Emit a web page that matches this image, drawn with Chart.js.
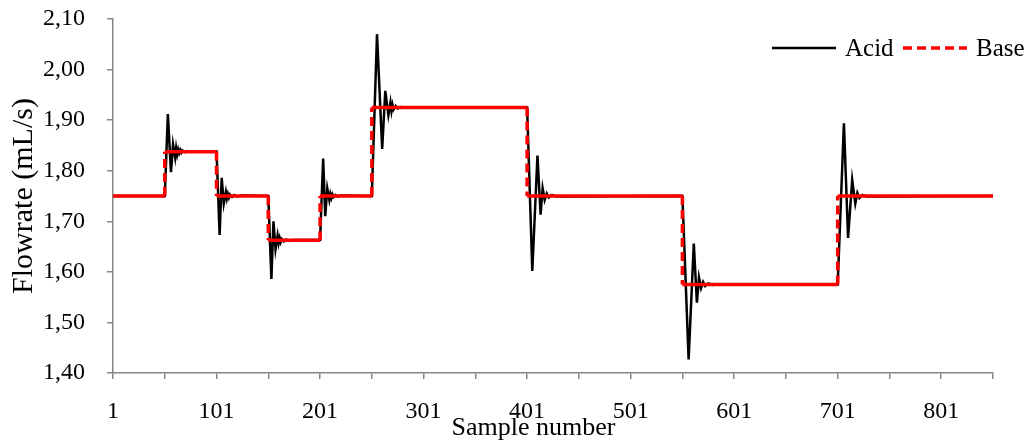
<!DOCTYPE html>
<html>
<head>
<meta charset="utf-8">
<script src="https://cdn.jsdelivr.net/npm/chart.js@4"></script>
<style>
    body { margin: 0; background: #fff; }
    #wrap { width: 1034px; height: 441px; }
</style>
</head>
<body>
<div id="wrap"><canvas id="flowChart" width="1034" height="441"></canvas></div>
<script>
// Acid flowrate (sample, value)
const acidX = [1, 51,
    54, 57, 59, 61, 62, 63, 64, 65, 66, 67, 68, 70, 72, 75, 80, 101,
    104, 106, 108, 110, 111, 112, 113, 114, 116, 118, 121, 125, 151,
    154, 156, 158, 160, 161, 162, 163, 164, 166, 168, 171, 175, 201,
    204, 206, 208, 210, 211, 212, 213, 214, 216, 218, 221, 251,
    256, 261, 264, 267, 269, 270, 271, 272, 274, 276, 279, 283, 401,
    406, 411, 414, 416, 418, 420, 422, 425, 429, 551,
    557, 562, 565, 567, 569, 571, 573, 576, 580, 585, 701,
    707, 711, 715, 718, 720, 722, 725, 729, 851];
const acidY = [1.75, 1.75,
    1.912, 1.797, 1.852, 1.826, 1.845, 1.832, 1.842, 1.835, 1.841, 1.836, 1.840, 1.837, 1.839, 1.838, 1.838, 1.838,
    1.673, 1.786, 1.735, 1.758, 1.745, 1.754, 1.747, 1.753, 1.748, 1.752, 1.749, 1.751, 1.75,
    1.586, 1.700, 1.645, 1.672, 1.657, 1.667, 1.659, 1.665, 1.660, 1.664, 1.661, 1.663, 1.663,
    1.824, 1.710, 1.765, 1.742, 1.754, 1.746, 1.753, 1.748, 1.752, 1.749, 1.751, 1.75,
    2.070, 1.843, 1.958, 1.910, 1.935, 1.918, 1.930, 1.921, 1.928, 1.923, 1.926, 1.925, 1.925,
    1.602, 1.830, 1.713, 1.765, 1.742, 1.755, 1.747, 1.752, 1.749, 1.75,
    1.427, 1.656, 1.539, 1.589, 1.568, 1.580, 1.572, 1.577, 1.574, 1.575, 1.575,
    1.894, 1.667, 1.782, 1.735, 1.756, 1.746, 1.752, 1.749, 1.75];

// Base flowrate (set point steps)
const baseX = [1, 51, 51, 101, 101, 151, 151, 201, 201, 251, 251, 401, 401, 551, 551, 701, 701, 851];
const baseY = [1.75, 1.75, 1.8375, 1.8375, 1.75, 1.75, 1.6625, 1.6625, 1.75, 1.75, 1.925, 1.925, 1.75, 1.75, 1.575, 1.575, 1.75, 1.75];

// Axis ticks
const xTicks = [1, 51, 101, 151, 201, 251, 301, 351, 401, 451, 501, 551, 601, 651, 701, 751, 801, 851];
const xLabels = ['1', '', '101', '', '201', '', '301', '', '401', '', '501', '', '601', '', '701', '', '801', ''];

const serif = "'Liberation Serif', 'Times New Roman', serif";
const axisGray = '#868686';

// Simple line legend drawn over the plot (top right)
const lineLegend = {
    id: 'lineLegend',
    afterDraw(chart, args, opts) {
        const ctx = chart.ctx;
        ctx.save();
        ctx.font = opts.font;
        ctx.textBaseline = 'middle';
        ctx.textAlign = 'left';
        chart.data.datasets.forEach((ds, i) => {
            const x = opts.starts[i];
            ctx.strokeStyle = ds.borderColor;
            ctx.lineWidth = ds.borderWidth;
            ctx.setLineDash(ds.borderDash || []);
            ctx.beginPath();
            ctx.moveTo(x, opts.y);
            ctx.lineTo(x + opts.lineLength, opts.y);
            ctx.stroke();
            ctx.setLineDash([]);
            ctx.fillStyle = '#000';
            ctx.fillText(ds.label, x + opts.lineLength + opts.gap, opts.y + 1);
        });
        ctx.restore();
    }
};

const ctx = document.getElementById('flowChart').getContext('2d');
new Chart(ctx, {
    type: 'line',
    data: {
        datasets: [
            {
                label: 'Acid',
                data: acidX.map((x, i) => ({ x: x, y: acidY[i] })),
                borderColor: '#000000',
                borderWidth: 2.5,
                pointRadius: 0,
                tension: 0,
                order: 1
            },
            {
                label: 'Base',
                data: baseX.map((x, i) => ({ x: x, y: baseY[i] })),
                borderColor: '#ff0000',
                borderWidth: 3.5,
                borderDash: [9, 5],
                pointRadius: 0,
                tension: 0,
                order: 0,
                // dashes only show on the vertical steps
                segment: {
                    borderDash: c => c.p0.parsed.x === c.p1.parsed.x ? [9, 5] : []
                }
            }
        ]
    },
    options: {
        responsive: false,
        animation: false,
        layout: { padding: { top: 19, right: 41, bottom: 0, left: 0 } },
        plugins: {
            legend: { display: false },
            tooltip: { enabled: false },
            lineLegend: {
                font: '25px ' + serif,
                y: 48,
                starts: [772, 903],
                lineLength: 64,
                gap: 9
            }
        },
        scales: {
            x: {
                type: 'linear',
                min: 1,
                max: 851,
                afterBuildTicks: scale => { scale.ticks = xTicks.map(v => ({ value: v })); },
                afterFit: scale => { scale.height = 68; },
                ticks: {
                    autoSkip: false,
                    maxRotation: 0,
                    padding: 18,
                    color: '#000',
                    font: { family: serif, size: 24 },
                    callback: (v) => xLabels[xTicks.indexOf(v)]
                },
                grid: { drawOnChartArea: false, tickLength: 6, color: axisGray, lineWidth: 1.5 },
                border: { color: axisGray, width: 1.5 },
                title: {
                    display: true,
                    // trailing spaces nudge the title a bit left, like the original
                    text: 'Sample number      ',
                    color: '#000',
                    font: { family: serif, size: 26, lineHeight: 1 },
                    padding: { top: 0, bottom: 0 }
                }
            },
            y: {
                min: 1.4,
                max: 2.1,
                afterFit: scale => {
                    scale.width = 113;
                    // the tick padding would otherwise push the plot down
                    scale.paddingTop = 0;
                    scale.paddingBottom = 0;
                },
                ticks: {
                    stepSize: 0.1,
                    padding: 22,
                    color: '#000',
                    font: { family: serif, size: 24 },
                    callback: v => v.toFixed(2).replace('.', ',')
                },
                grid: { drawOnChartArea: false, tickLength: 6, color: axisGray, lineWidth: 1.5 },
                border: { color: axisGray, width: 1.5 },
                title: {
                    display: true,
                    text: 'Flowrate (mL/s)',
                    color: '#000',
                    font: { family: serif, size: 30, lineHeight: 1 },
                    padding: { top: 9, bottom: 0 }
                }
            }
        }
    },
    plugins: [lineLegend]
});
</script>
</body>
</html>
